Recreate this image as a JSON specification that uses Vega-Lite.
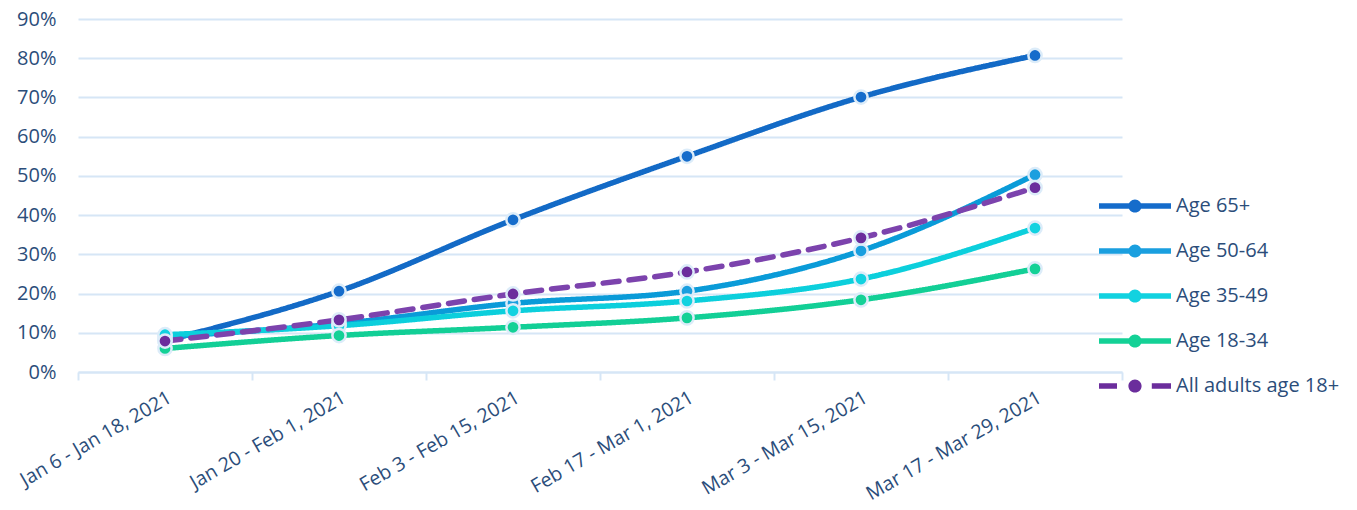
{
  "$schema": "https://vega.github.io/schema/vega-lite/v6.json",
  "width": 1044,
  "height": 353,
  "autosize": "none",
  "padding": {"left": 78, "top": 19, "right": 235, "bottom": 138},
  "background": "white",
  "config": {
    "font": "Open Sans",
    "view": {"stroke": null}
  },
  "data": {
    "values": [
      {"date": "Jan 6 - Jan 18, 2021", "group": "Age 65+", "value": 8.0},
      {"date": "Jan 20 - Feb 1, 2021", "group": "Age 65+", "value": 20.6},
      {"date": "Feb 3 - Feb 15, 2021", "group": "Age 65+", "value": 38.8},
      {"date": "Feb 17 - Mar 1, 2021", "group": "Age 65+", "value": 55.0},
      {"date": "Mar 3 - Mar 15, 2021", "group": "Age 65+", "value": 70.1},
      {"date": "Mar 17 - Mar 29, 2021", "group": "Age 65+", "value": 80.7},
      {"date": "Jan 6 - Jan 18, 2021", "group": "Age 50-64", "value": 9.0},
      {"date": "Jan 20 - Feb 1, 2021", "group": "Age 50-64", "value": 12.3},
      {"date": "Feb 3 - Feb 15, 2021", "group": "Age 50-64", "value": 17.5},
      {"date": "Feb 17 - Mar 1, 2021", "group": "Age 50-64", "value": 20.6},
      {"date": "Mar 3 - Mar 15, 2021", "group": "Age 50-64", "value": 30.9},
      {"date": "Mar 17 - Mar 29, 2021", "group": "Age 50-64", "value": 50.3},
      {"date": "Jan 6 - Jan 18, 2021", "group": "Age 35-49", "value": 9.5},
      {"date": "Jan 20 - Feb 1, 2021", "group": "Age 35-49", "value": 11.8},
      {"date": "Feb 3 - Feb 15, 2021", "group": "Age 35-49", "value": 15.6},
      {"date": "Feb 17 - Mar 1, 2021", "group": "Age 35-49", "value": 18.1},
      {"date": "Mar 3 - Mar 15, 2021", "group": "Age 35-49", "value": 23.7},
      {"date": "Mar 17 - Mar 29, 2021", "group": "Age 35-49", "value": 36.7},
      {"date": "Jan 6 - Jan 18, 2021", "group": "Age 18-34", "value": 6.0},
      {"date": "Jan 20 - Feb 1, 2021", "group": "Age 18-34", "value": 9.3},
      {"date": "Feb 3 - Feb 15, 2021", "group": "Age 18-34", "value": 11.4},
      {"date": "Feb 17 - Mar 1, 2021", "group": "Age 18-34", "value": 13.8},
      {"date": "Mar 3 - Mar 15, 2021", "group": "Age 18-34", "value": 18.4},
      {"date": "Mar 17 - Mar 29, 2021", "group": "Age 18-34", "value": 26.3},
      {"date": "Jan 6 - Jan 18, 2021", "group": "All adults age 18+", "value": 7.9},
      {"date": "Jan 20 - Feb 1, 2021", "group": "All adults age 18+", "value": 13.3},
      {"date": "Feb 3 - Feb 15, 2021", "group": "All adults age 18+", "value": 19.9},
      {"date": "Feb 17 - Mar 1, 2021", "group": "All adults age 18+", "value": 25.5},
      {"date": "Mar 3 - Mar 15, 2021", "group": "All adults age 18+", "value": 34.2},
      {"date": "Mar 17 - Mar 29, 2021", "group": "All adults age 18+", "value": 47.0}
    ]
  },
  "encoding": {
    "x": {
      "field": "date",
      "type": "nominal",
      "sort": null,
      "scale": {"type": "band", "paddingInner": 0, "paddingOuter": 0},
      "axis": {
        "title": null,
        "tickBand": "extent",
        "domainColor": "#d6e6f6",
        "domainWidth": 2,
        "tickColor": "#d6e6f6",
        "tickWidth": 2,
        "tickSize": 8,
        "labelAngle": -30,
        "labelAlign": "right",
        "labelBaseline": "top",
        "labelPadding": 8,
        "labelFontSize": 19.5,
        "labelLimit": 0,
        "labelColor": "#2b4d7a",
        "grid": false
      }
    },
    "y": {
      "field": "value",
      "type": "quantitative",
      "scale": {"domain": [0, 90]},
      "axis": {
        "title": null,
        "values": [0, 10, 20, 30, 40, 50, 60, 70, 80, 90],
        "labelExpr": "datum.value + '%'",
        "domain": false,
        "ticks": false,
        "labelPadding": 22,
        "labelFontSize": 20,
        "labelColor": "#2b4d7a",
        "gridColor": "#d6e6f6",
        "gridWidth": 2
      }
    }
  },
  "layer": [
    {
      "mark": {"type": "line", "interpolate": "monotone", "strokeWidth": 5.5, "strokeCap": "round"},
      "encoding": {
        "color": {
          "field": "group",
          "type": "nominal",
          "scale": {
            "domain": ["Age 65+", "Age 50-64", "Age 35-49", "Age 18-34", "All adults age 18+"],
            "range": ["#136ac6", "#0a9bd8", "#0ccfdc", "#12cf96", "#7c43ad"]
          },
          "legend": {
            "title": null,
            "orient": "none",
            "legendX": 1045,
            "legendY": 175,
            "padding": 0,
            "symbolSize": 576,
            "labelOffset": 29,
            "rowPadding": 23,
            "labelFontSize": 20,
            "labelLimit": 0,
            "labelColor": "#2b4d7a",
            "labelFont": "Open Sans",
            "encode": {
              "symbols": {
                "update": {
                  "shape": {"signal": "datum.value === 'All adults age 18+' ? 'M-3,-0.22 H-1.5 V0.22 H-3 Z M1.4,-0.22 H3 V0.22 H1.4 Z M0.55,0 A0.55,0.55 0 1,1 -0.55,0 A0.55,0.55 0 1,1 0.55,0 Z' : 'M-3,-0.22 H3 V0.22 H-3 Z M0.55,0 A0.55,0.55 0 1,1 -0.55,0 A0.55,0.55 0 1,1 0.55,0 Z'"},
                  "fill": {"scale": "color", "field": "value"},
                  "stroke": {"value": "transparent"},
                  "strokeWidth": {"value": 0},
                  "opacity": {"value": 1}
                }
              }
            }
          }
        },
        "strokeDash": {
          "field": "group",
          "type": "nominal",
          "scale": {
            "domain": ["Age 65+", "Age 50-64", "Age 35-49", "Age 18-34", "All adults age 18+"],
            "range": [[1, 0], [1, 0], [1, 0], [1, 0], [16, 10]]
          },
          "legend": null
        }
      }
    },
    {
      "mark": {"type": "point", "filled": true, "size": 175, "stroke": "#dcecf9", "strokeWidth": 2.5, "opacity": 1},
      "encoding": {
        "fill": {
          "field": "group",
          "type": "nominal",
          "scale": {
            "domain": ["Age 65+", "Age 50-64", "Age 35-49", "Age 18-34", "All adults age 18+"],
            "range": ["#156ccb", "#1a9fdf", "#12d2e0", "#14d196", "#6b2d9c"]
          },
          "legend": null
        }
      }
    }
  ]
}
